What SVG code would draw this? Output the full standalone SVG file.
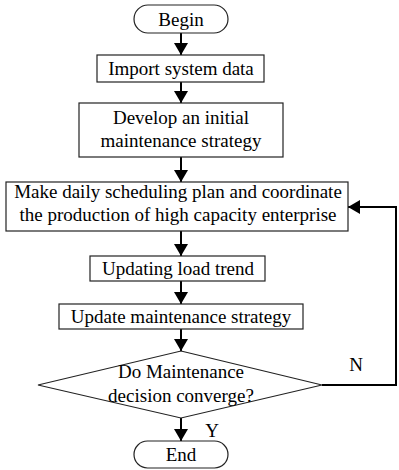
<svg xmlns="http://www.w3.org/2000/svg" width="399" height="470" viewBox="0 0 399 470">
<style>
.box{fill:#fff;stroke:#222;stroke-width:1.2}
.t{font-family:"Liberation Serif","Times New Roman",serif;font-size:19px;fill:#000;text-anchor:middle}
.c{fill:none;stroke:#000;stroke-width:2}
</style>
<defs>
<marker id="ah" viewBox="0 0 12 14" refX="12" refY="7" markerWidth="12" markerHeight="14" markerUnits="userSpaceOnUse" orient="auto">
<path d="M0,0 L12,7 L0,14 Z" fill="#000"/>
</marker>
</defs>
<rect width="399" height="470" fill="#fff"/>
<g id="connectors">
<line class="c" x1="181" y1="33" x2="181" y2="55" marker-end="url(#ah)"/>
<line class="c" x1="181" y1="82" x2="181" y2="103" marker-end="url(#ah)"/>
<line class="c" x1="181" y1="157" x2="181" y2="182" marker-end="url(#ah)"/>
<line class="c" x1="181" y1="231" x2="181" y2="256" marker-end="url(#ah)"/>
<line class="c" x1="181" y1="281" x2="181" y2="304" marker-end="url(#ah)"/>
<line class="c" x1="181" y1="329" x2="181" y2="351" marker-end="url(#ah)"/>
<line class="c" x1="181" y1="418" x2="181" y2="441" marker-end="url(#ah)"/>
<polyline class="c" points="322,385 396,385 396,207 348,207" marker-end="url(#ah)"/>
<text class="t" x="356" y="371">N</text>
<text class="t" x="212" y="437">Y</text>
</g>
<g id="begin">
<rect class="box" x="134" y="5" width="94" height="28" rx="14"/>
<text class="t" x="181" y="26">Begin</text>
</g>
<g id="import">
<rect class="box" x="97" y="55" width="167" height="27"/>
<text class="t" x="181" y="75">Import system data</text>
</g>
<g id="develop">
<rect class="box" x="79" y="103" width="204" height="54"/>
<text class="t" x="181" y="124">Develop an initial</text>
<text class="t" x="181" y="147">maintenance strategy</text>
</g>
<g id="schedule">
<rect class="box" x="6" y="182" width="342" height="49"/>
<text class="t" x="178" y="198">Make daily scheduling plan and coordinate</text>
<text class="t" x="178" y="221">the production of high capacity enterprise</text>
</g>
<g id="load">
<rect class="box" x="90" y="256" width="175" height="25"/>
<text class="t" x="178" y="275">Updating load trend</text>
</g>
<g id="update">
<rect class="box" x="59" y="304" width="244" height="25"/>
<text class="t" x="181" y="323">Update maintenance strategy</text>
</g>
<g id="decision">
<polygon class="box" points="181,351 322,385 181,418 38,385"/>
<text class="t" x="181" y="378">Do Maintenance</text>
<text class="t" x="181" y="402">decision converge?</text>
</g>
<g id="end">
<rect class="box" x="134" y="441" width="94" height="27" rx="13.5"/>
<text class="t" x="181" y="461">End</text>
</g>
</svg>
